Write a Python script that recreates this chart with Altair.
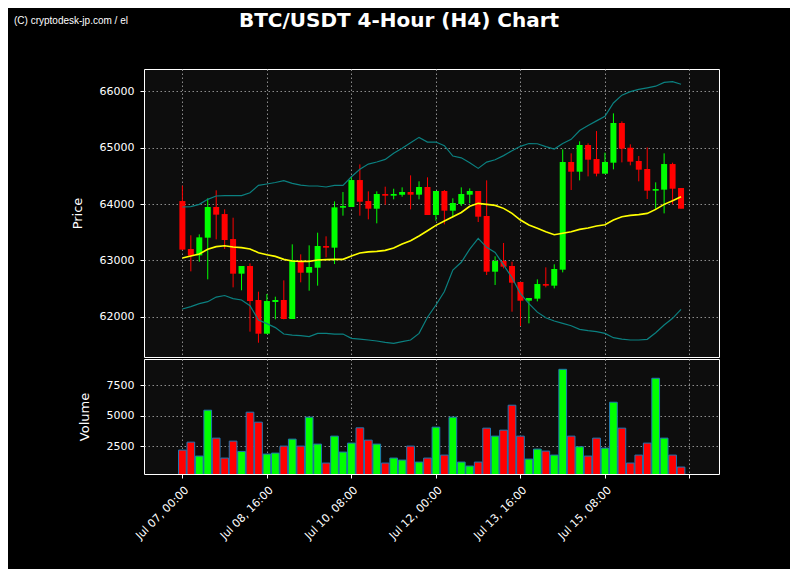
import altair as alt
import pandas as pd

title_text = "BTC/USDT 4-Hour (H4) Chart"
credit_text = "(C) cryptodesk-jp.com / el"

open_ = [64053, 63201, 63088, 63402, 63947, 63822, 63378, 62763, 62899, 62295,
         61697, 62260, 62295, 61958, 62976, 62780, 62869, 63254, 63225, 63935,
         63947, 64426, 64053, 63917, 64178, 64148, 64166, 64213, 64166, 64302,
         63805, 64231, 63882, 64000, 64166, 64231, 63787, 62798, 62988, 62899,
         62615, 62283, 62319, 62579, 62550, 62834, 64746, 64574, 65048, 64799,
         64539, 64734, 65439, 65000, 64764, 64622, 64237, 64255, 64710, 64284]
close = [63190, 63082, 63408, 63947, 63811, 63361, 62763, 62899, 62277, 61697,
         62277, 62295, 61958, 63005, 62780, 62881, 63254, 63225, 63941, 63964,
         64426, 64041, 63917, 64178, 64148, 64178, 64213, 64166, 64302, 63805,
         64231, 63882, 64018, 64178, 64231, 63775, 62798, 62988, 62887, 62603,
         62283, 62331, 62579, 62550, 62846, 64746, 64574, 65048, 64787, 64539,
         64746, 65439, 64983, 64752, 64610, 64237, 64266, 64710, 64272, 63917]
high = [64326, 63444, 63461, 64101, 64243, 63905, 63757, 62899, 62946, 62443,
        62402, 62354, 62644, 63284, 63106, 63266, 63491, 63426, 64047, 64213,
        64491, 64704, 64225, 64225, 64308, 64272, 64296, 64509, 64403, 64474,
        64231, 64249, 64101, 64296, 64278, 64231, 64420, 63071, 63308, 62976,
        62615, 62331, 62662, 62875, 62929, 64971, 64900, 65113, 65077, 65296,
        64912, 65610, 65468, 65060, 64852, 65006, 64385, 64900, 64734, 64284]
low = [63183, 62804, 62976, 62662, 63372, 63201, 62520, 62467, 61733, 61537,
       61697, 61952, 61952, 61958, 62609, 62461, 62550, 63053, 62934, 63793,
       63947, 63793, 63728, 63657, 63988, 64083, 64130, 63905, 64083, 63805,
       63704, 63639, 63763, 63964, 64012, 63680, 62739, 62562, 62857, 62088,
       61833, 61881, 62271, 62520, 62502, 62786, 64249, 64420, 64491, 64491,
       64539, 64616, 64740, 64687, 64403, 64089, 63911, 63834, 63994, 63917]
volume = [2170, 2825, 1678, 5449, 3153, 1514, 2907, 2060, 5285, 4465,
          1842, 1924, 2498, 3071, 2498, 4875, 2662, 1104, 3317, 2006,
          2744, 4000, 2990, 2662, 1104, 1514, 1350, 2498, 1186, 1514,
          4055, 1760, 4875, 1186, 858, 1186, 3973, 3317, 3809, 5858,
          3317, 1432, 2252, 2088, 1760, 8809, 3317, 2443, 1678, 3153,
          2334, 6104, 3973, 1104, 1760, 2744, 8072, 3153, 1760, 776]
sma = [63041, 63076, 63112, 63195, 63243, 63260, 63237, 63225, 63201, 63136,
       63100, 63070, 63017, 62988, 62982, 62982, 63006, 63012, 63017, 63017,
       63077, 63130, 63150, 63159, 63177, 63219, 63290, 63349, 63432, 63526,
       63621, 63698, 63775, 63850, 63960, 64012, 63994, 63976, 63923, 63834,
       63716, 63627, 63568, 63509, 63455, 63482, 63509, 63550, 63574, 63609,
       63633, 63716, 63775, 63799, 63811, 63834, 63905, 63994, 64059, 64130]
upper = [63947, 63953, 63994, 64083, 64142, 64148, 64148, 64148, 64201, 64332,
         64356, 64382, 64414, 64367, 64337, 64320, 64320, 64302, 64332, 64332,
         64485, 64616, 64710, 64746, 64793, 64900, 64989, 65089, 65184, 65101,
         65101, 65036, 64852, 64820, 64734, 64633, 64745, 64787, 64860, 64947,
         65025, 65075, 65070, 65020, 64975, 65075, 65148, 65305, 65395, 65477,
         65557, 65794, 65933, 65995, 66036, 66063, 66093, 66161, 66173, 66128]
lower = [62135, 62177, 62230, 62265, 62348, 62375, 62319, 62295, 62195, 61940,
         61875, 61805, 61691, 61673, 61662, 61644, 61703, 61703, 61688, 61691,
         61614, 61602, 61585, 61567, 61543, 61526, 61555, 61585, 61703, 61990,
         62206, 62445, 62828, 62965, 63200, 63390, 63230, 63140, 62920, 62690,
         62410, 62230, 62080, 61980, 61922, 61881, 61839, 61774, 61750, 61733,
         61703, 61626, 61602, 61585, 61585, 61597, 61715, 61851, 61970, 62129]

times = pd.date_range("2024-07-07 00:00", periods=len(close), freq="4h")
df = pd.DataFrame({
    "time": times, "open": open_, "close": close, "high": high, "low": low,
    "volume": volume, "sma": sma, "upper": upper, "lower": lower,
})
df["dir"] = ["up" if c >= o else "down" for o, c in zip(open_, close)]

tick_dates = [
    alt.DateTime(year=2024, month=7, date=7, hours=0),
    alt.DateTime(year=2024, month=7, date=8, hours=16),
    alt.DateTime(year=2024, month=7, date=10, hours=8),
    alt.DateTime(year=2024, month=7, date=12, hours=0),
    alt.DateTime(year=2024, month=7, date=13, hours=16),
    alt.DateTime(year=2024, month=7, date=15, hours=8),
    alt.DateTime(year=2024, month=7, date=17, hours=0),
]
x_scale = alt.Scale(domain=[alt.DateTime(year=2024, month=7, date=6, hours=8, minutes=12),
                            alt.DateTime(year=2024, month=7, date=17, hours=11, minutes=36)])
color_scale = alt.Scale(domain=["up", "down"], range=["#00ff00", "#ff0000"])
price_scale = alt.Scale(domain=[61283, 66398], nice=False, zero=False)

grid_color = "#9a9a9a"
top_x_axis = alt.Axis(values=tick_dates, labels=False, ticks=False, domain=False,
                      title=None, grid=True)
bottom_x_axis = alt.Axis(values=tick_dates, format="%b %d, %H:%M", labelAngle=-45,
                         grid=True, title=None, domain=False,
                         labelExpr="datum.value >= datetime(2024, 6, 16, 12) ? '' : datum.label")

base = alt.Chart(df).encode(x=alt.X("time:T", scale=x_scale, axis=top_x_axis))

wicks = base.mark_rule(strokeWidth=1).encode(
    y=alt.Y("low:Q", scale=price_scale,
            axis=alt.Axis(values=[62000, 63000, 64000, 65000, 66000], format="d",
                          grid=True, domain=False),
            title="Price"),
    y2="high:Q",
    color=alt.Color("dir:N", scale=color_scale, legend=None),
)
bodies = base.mark_bar(size=6).encode(
    y="open:Q", y2="close:Q",
    color=alt.Color("dir:N", scale=color_scale, legend=None),
)
upper_line = base.mark_line(color="#0b8080", strokeWidth=1.2).encode(y="upper:Q")
lower_line = base.mark_line(color="#0b8080", strokeWidth=1.2).encode(y="lower:Q")
sma_line = base.mark_line(color="#ffff00", strokeWidth=1.6).encode(y="sma:Q")

ann = pd.DataFrame({"t": [title_text]})
title_mark = alt.Chart(ann).mark_text(
    font="DejaVu Sans", fontSize=20, fontWeight="bold", color="white",
    align="center", baseline="alphabetic"
).encode(text="t:N", x=alt.value(255), y=alt.value(-42))
credit = pd.DataFrame({"t": [credit_text]})
credit_mark = alt.Chart(credit).mark_text(
    font="Liberation Sans", fontSize=10, color="white",
    align="left", baseline="alphabetic"
).encode(text="t:N", x=alt.value(-130), y=alt.value(-45))

price = alt.layer(wicks, bodies, upper_line, lower_line, sma_line,
                  title_mark, credit_mark).properties(width=575, height=288)

vol = alt.Chart(df).mark_bar(size=7.7, stroke="#1f77b4", strokeWidth=1, clip=True).encode(
    x=alt.X("time:T", scale=x_scale, axis=bottom_x_axis),
    y=alt.Y("volume:Q", scale=alt.Scale(domain=[205, 9656], nice=False, zero=False),
            axis=alt.Axis(values=[2500, 5000, 7500], format="d", grid=True, domain=False),
            title="Volume"),
    y2=alt.datum(0),
    color=alt.Color("dir:N", scale=color_scale, legend=None),
).properties(width=575, height=115)

chart = alt.vconcat(price, vol, spacing=0).properties(
    background="black",
    padding={"left": 5, "top": 2, "right": 70, "bottom": 27},
).configure_view(
    fill="#0d0d0d", stroke="white", strokeWidth=1
).configure_axis(
    labelColor="white", titleColor="white", tickColor="white",
    labelFont="DejaVu Sans", titleFont="DejaVu Sans",
    labelFontSize=11, titleFontSize=13, titleFontWeight="normal",
    tickSize=4, labelPadding=6, titlePadding=15,
    gridColor=grid_color, gridDash=[1.5, 2.5], gridWidth=1, gridOpacity=0.9,
)

chart.save("out.html", embed_options={"renderer": "svg", "actions": False})
